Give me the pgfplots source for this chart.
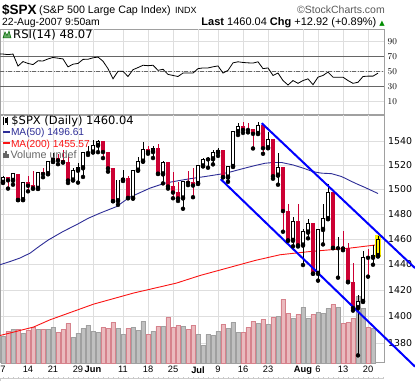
\documentclass[border=0pt]{standalone}
\usepackage{pgfplots}
\pgfplotsset{compat=1.18}
\usepackage{pgfplotstable}
\usepackage{fontspec}
\setmainfont{Liberation Sans}
\newfontfamily\dejavu{DejaVu Sans}
\definecolor{candred}{RGB}{204,0,51}
\definecolor{manavy}{RGB}{45,45,150}
\definecolor{mared}{RGB}{250,20,20}
\definecolor{chan}{RGB}{0,0,255}
\definecolor{volpink}{RGB}{234,186,190}
\definecolor{volpinkd}{RGB}{214,130,140}
\definecolor{volgray}{RGB}{192,192,192}
\definecolor{volgrayd}{RGB}{160,160,160}
\definecolor{gridc}{RGB}{222,222,222}
\definecolor{gridm}{RGB}{185,185,185}
\definecolor{framec}{RGB}{160,160,160}

\pgfplotstableread{
i o h l c
0 1505.6 1511.0 1505.5 1509.5
1 1509.4 1509.4 1500.7 1507.7
2 1507.3 1513.8 1503.8 1512.6
3 1512.3 1512.3 1491.4 1491.5
4 1491.5 1506.2 1491.5 1505.9
5 1505.8 1510.9 1498.3 1503.2
6 1503.1 1514.8 1500.4 1501.2
7 1500.7 1514.2 1500.4 1514.1
8 1514.0 1517.1 1509.9 1512.8
9 1512.7 1522.8 1512.7 1522.8
10 1522.8 1529.9 1522.7 1525.1
11 1525.1 1529.2 1520.6 1524.1
12 1524.1 1532.4 1522.3 1522.3
13 1522.1 1529.3 1505.2 1507.5
14 1507.5 1517.5 1507.5 1515.7
15 1515.6 1521.8 1505.5 1518.1
16 1517.6 1530.2 1510.1 1530.2
17 1530.2 1535.6 1528.3 1530.6
18 1530.6 1540.5 1530.6 1536.3
19 1536.3 1540.9 1530.6 1539.2
20 1539.1 1539.1 1525.6 1531.0
21 1530.6 1530.6 1514.4 1517.4
22 1517.4 1517.4 1490.4 1490.7
23 1490.7 1507.8 1487.4 1507.7
24 1507.6 1515.8 1506.8 1509.1
25 1509.1 1511.0 1493.0 1493.0
26 1492.7 1515.9 1492.7 1515.7
27 1515.6 1526.7 1515.6 1523.0
28 1523.0 1538.7 1523.0 1532.9
29 1532.9 1535.4 1529.3 1531.1
30 1531.0 1535.8 1525.7 1533.7
31 1533.7 1537.3 1512.8 1512.8
32 1512.5 1522.9 1504.8 1522.2
33 1522.2 1522.2 1500.7 1502.6
34 1502.6 1514.3 1492.7 1497.7
35 1497.7 1506.1 1490.5 1492.9
36 1492.9 1506.8 1484.2 1506.3
37 1506.3 1514.8 1503.4 1505.7
38 1505.7 1517.5 1493.6 1503.4
39 1504.7 1519.4 1504.7 1519.4
40 1519.1 1526.0 1519.1 1524.9
41 1524.9 1526.6 1517.7 1525.4
42 1525.0 1532.4 1520.5 1530.4
43 1530.4 1534.3 1527.5 1531.9
44 1531.9 1531.9 1510.0 1510.1
45 1509.9 1519.3 1506.1 1518.8
46 1518.7 1547.9 1518.7 1547.7
47 1547.7 1555.1 1544.9 1552.5
48 1552.5 1555.9 1546.7 1549.5
49 1549.5 1555.3 1547.2 1549.4
50 1549.2 1549.2 1533.7 1546.2
51 1546.1 1555.9 1546.1 1553.1
52 1553.2 1553.2 1529.2 1534.1
53 1534.1 1547.2 1534.1 1541.6
54 1541.6 1541.6 1508.6 1511.0
55 1511.5 1530.0 1503.8 1518.1
56 1518.1 1518.1 1465.8 1482.7
57 1482.4 1488.5 1458.9 1458.9
58 1458.9 1477.9 1454.3 1473.9
59 1473.9 1488.3 1454.2 1455.3
60 1455.2 1468.4 1439.6 1465.8
61 1465.5 1476.4 1460.6 1472.2
62 1472.2 1473.2 1432.8 1433.1
63 1433.0 1467.7 1427.4 1467.7
64 1467.6 1488.3 1455.8 1476.7
65 1476.2 1503.9 1476.2 1497.5
66 1497.2 1497.2 1453.1 1453.1
67 1453.1 1462.0 1429.7 1453.6
68 1453.4 1466.3 1451.2 1452.9
69 1452.9 1456.7 1426.5 1426.5
70 1426.2 1440.8 1404.4 1406.7
71 1406.6 1416.0 1370.6 1411.3
72 1411.3 1450.3 1411.3 1445.9
73 1445.9 1451.8 1430.5 1445.6
74 1445.6 1455.0 1439.8 1447.1
}\candles

\pgfplotstableread{
i r
-0.6 73.5
0 73.5
1 72.8
2 73.5
3 57.5
4 63.5
5 61
6 59.5
7 64.5
8 64.3
9 67
10 69
11 68
12 67
13 56.4
14 60
15 61
16 66.4
17 66.6
18 68.5
19 69.5
20 64
21 54.1
22 40.5
23 50.5
24 50.5
25 43.6
26 52.7
27 55.5
28 58.6
29 58
30 58.6
31 51.8
32 53.2
33 46.4
34 45
35 43.6
36 48.2
37 48.2
38 48.2
39 54.1
40 55
41 55
42 56.5
43 57.7
44 48.2
45 51.8
46 61.8
47 63.2
48 62.3
49 61.8
50 61.5
51 63.2
52 54.1
53 55
54 45
55 48.2
56 38.2
57 32.3
58 38.2
59 34.5
60 38.2
61 40.5
62 32.7
63 42.7
64 45
65 49.5
66 42.7
67 42.7
68 42.7
69 38.2
70 34.5
71 35.9
72 43.6
73 44.1
74 44.1
75 48.07
}\rsi

\pgfplotstableread{
i v d
0 26.7 0
1 31.7 1
2 33.3 0
3 34.0 1
4 30.0 0
5 32.7 1
6 35.3 1
7 33.3 0
8 33.3 1
9 33.3 0
10 35.3 0
11 30.3 1
12 33.3 1
13 39.3 1
14 25.3 0
15 30.0 0
16 34.3 0
17 37.7 0
18 31.7 0
19 30.3 0
20 35.3 1
21 34.3 1
22 40.3 1
23 34.3 0
24 28.7 0
25 34.3 1
26 35.3 0
27 32.7 0
28 41.3 0
29 28.7 1
30 32.0 0
31 36.7 1
32 36.7 0
33 45.3 1
34 36.0 1
35 37.7 1
36 37.0 0
37 33.7 1
38 37.7 1
39 28.7 0
40 17.7 0
41 28.7 0
42 27.7 0
43 31.7 0
44 38.7 1
45 35.0 0
46 40.3 0
47 31.0 0
48 30.3 1
49 35.3 1
50 41.7 1
51 39.3 0
52 43.3 1
53 38.7 0
54 45.3 1
55 47.0 0
56 63.3 1
57 50.0 1
58 44.3 0
59 48.7 1
60 55.3 0
61 44.3 0
62 48.7 1
63 51.0 0
64 50.0 0
65 54.3 0
66 58.3 1
67 55.3 0
68 39.3 1
69 40.3 1
70 45.0 1
71 66.7 0
72 54.3 0
73 35.3 1
74 34.3 0
}\volume

\pgfplotstableread{
i m
-0.6 1439.8
1.4 1442.3
3.4 1445.0
5.4 1448.9
7.4 1454.7
9.1 1459.4
12 1466.0
14.7 1471.4
17 1476.5
19.4 1480.7
22.7 1486.0
25.3 1493.5
27 1496.5
29.4 1501.0
32.4 1505.0
35 1507.0
37.4 1508.6
40.5 1510.5
43.4 1512.4
45.4 1514.1
48 1517.0
50.4 1519.5
52.4 1521.3
54 1522.0
55.7 1522.0
58 1520.0
60.1 1517.3
62 1514.5
63.7 1513.2
65.7 1512.8
67.7 1510.4
70.4 1505.0
72.4 1501.5
74 1498.5
75 1496.6
}\mafifty

\pgfplotstableread{
i m
-0.6 1385.5
6.1 1391.9
9.4 1397.4
18.1 1409.3
26.1 1417.8
34.7 1425.5
39.4 1431.4
46 1438.4
50.4 1443.1
55.4 1447.6
61.4 1450.2
69.4 1452.8
75 1455.6
}\matwohundred

\pgfplotsset{
  chartx/.style={xmin=-0.6, xmax=76.2, scale only axis, width=384pt, anchor=south west},
  pricey/.style={ymin=1365.1, ymax=1561.9, height=248pt, at={(0pt,18pt)}},
  dayticks/.style={xtick={0,5,10,15,18,24,29,34,39,43,48,53,60,63,68,73}},
  body/.style={only marks, mark=none, error bars/y dir=plus, error bars/y explicit, error bars/error mark=none},
}
\begin{document}
\begin{tikzpicture}
\useasboundingbox (0pt,0pt) rectangle (415pt,381pt);

% ---------- RSI panel ----------
\begin{axis}[chartx, at={(0pt,266pt)}, height=86pt, ymin=-7.7, ymax=106.9,
  dayticks, xticklabels={},
  ytick={10,30,50,70,90}, yticklabel pos=right,
  xmajorgrids, ymajorgrids, major grid style={gridc, line width=0.6pt},
  extra x ticks={18,39,60}, extra x tick labels={}, extra x tick style={grid style={gridm, line width=0.8pt}},
  major tick length=0pt,
  axis line style={framec, line width=0.7pt},
  yticklabel style={font=\dejavu\fontsize{9}{10}\selectfont, inner sep=0pt, xshift=3.5pt}]
\addplot[gray!80!black, line width=0.8pt] coordinates {(-0.6,70) (76.2,70)};
\addplot[gray!80!black, line width=0.8pt] coordinates {(-0.6,30) (76.2,30)};
\addplot[gray!80!black, line width=0.6pt, dash pattern=on 4pt off 1.5pt on 1pt off 1.5pt] coordinates {(-0.6,50) (76.2,50)};
\addplot[black, line width=0.8pt] table[x=i, y=r] {\rsi};
\end{axis}

% ---------- price background ----------
\begin{axis}[chartx, ymode=log, pricey,
  dayticks,
  xticklabels={7,14,21,29,\textbf{Jun},11,18,25,\textbf{Jul},9,16,23,\textbf{Aug},6,13,20},
  ytick={1380,1400,1420,1440,1460,1480,1500,1520,1540},
  yticklabels={1380,1400,1420,1440,1460,1480,1500,1520,1540},
  yticklabel pos=right,
  xmajorgrids, ymajorgrids, major grid style={gridc, line width=0.6pt},
  extra x ticks={18,39,60}, extra x tick labels={}, extra x tick style={grid style={gridm, line width=0.8pt}},
  major tick length=0pt,
  axis line style={framec, line width=0.7pt},
  xticklabel style={font=\fontsize{9.3}{10}\selectfont},
  yticklabel style={font=\dejavu\fontsize{9.4}{10}\selectfont, inner sep=0pt, xshift=4pt}]
\addplot[draw=none] coordinates {(0,1450) (1,1450)};
\end{axis}

% ---------- volume ----------
\begin{axis}[chartx, at={(0pt,18pt)}, height=248pt, ymin=0, ymax=248, hide axis]
\addplot[ybar, bar width=4.3pt, bar shift=0pt, fill=volgray, draw=volgrayd, line width=0.5pt,
  restrict expr to domain={\thisrow{d}}{-0.5:0.5}] table[x=i, y=v] {\volume};
\addplot[ybar, bar width=4.3pt, bar shift=0pt, fill=volpink, draw=volpinkd, line width=0.5pt,
  restrict expr to domain={\thisrow{d}}{0.5:1.5}] table[x=i, y=v] {\volume};
\end{axis}

% ---------- price foreground ----------
\begin{axis}[chartx, ymode=log, pricey, hide axis, clip=false]
\addplot[mared, line width=0.9pt] table[x=i, y=m] {\matwohundred};
\addplot[manavy, line width=0.9pt] table[x=i, y=m] {\mafifty};
% red (down) candles
\addplot[body, error bars/error bar style={line width=0.9pt, candred},
  restrict expr to domain={\thisrow{o}-\thisrow{c}}{0:1000}]
  table[x=i, y=l, y error expr=\thisrow{h}-\thisrow{l}] {\candles};
\addplot[body, error bars/error bar style={line width=4.3pt, candred},
  restrict expr to domain={\thisrow{o}-\thisrow{c}}{0:1000}]
  table[x=i, y expr=\thisrow{c}-0.35, y error expr=\thisrow{o}-\thisrow{c}+0.7] {\candles};
% hollow (up) candles
\addplot[body, error bars/error bar style={line width=0.9pt, black},
  restrict expr to domain={\thisrow{c}-\thisrow{o}}{0:1000}]
  table[x=i, y=l, y error expr=\thisrow{h}-\thisrow{l}] {\candles};
\addplot[body, error bars/error bar style={line width=4.5pt, black},
  restrict expr to domain={\thisrow{c}-\thisrow{o}}{0:1000}]
  table[x=i, y expr=\thisrow{o}-0.35, y error expr=\thisrow{c}-\thisrow{o}+0.7] {\candles};
\addplot[body, error bars/error bar style={line width=2.5pt, white},
  restrict expr to domain={\thisrow{c}-\thisrow{o}}{0.95:1000}]
  table[x=i, y expr=\thisrow{o}+0.45, y error expr=\thisrow{c}-\thisrow{o}-0.9] {\candles};
% last (highlighted) candle
\addplot[body, error bars/error bar style={line width=6.7pt, yellow}] coordinates {(75,1446.2) +- (0,17.2)};
\addplot[body, error bars/error bar style={line width=0.9pt, black}] coordinates {(75,1447.0) +- (0,15.6)};
\addplot[body, error bars/error bar style={line width=4.5pt, black}] coordinates {(75,1446.65) +- (0,13.74)};
\addplot[body, error bars/error bar style={line width=2.5pt, yellow}] coordinates {(75,1447.45) +- (0,12.15)};
% trend channel
\addplot[chan, line width=2pt] coordinates {(51.74,1554.9) (82.4,1437.2)};
\addplot[chan, line width=2pt] coordinates {(43.54,1508.3) (82.4,1362.3)};
\end{axis}

% bottom strip (top of next panel)
\draw[gray!40, line width=0.6pt] (0pt,2.8pt) -- (384pt,2.8pt);
\draw[gray!40, line width=0.6pt] (0.3pt,0pt) -- (0.3pt,2.8pt);
\foreach \k in {0,...,76} \draw[gray!45, line width=0.5pt] ({3pt+5pt*\k},2.8pt) -- ++(0pt,1.6pt);

% ---------- header texts ----------
\node[anchor=base west, inner sep=0pt] at (2pt,366.5pt) {\fontsize{13.5}{14}\selectfont\bfseries\$SPX};
\node[anchor=base west, inner sep=0pt] at (39pt,367pt) {\fontsize{10.7}{12}\selectfont(S\&P 500 Large Cap Index)};
\node[anchor=base west, inner sep=0pt] at (175pt,367pt) {\fontsize{9}{10}\selectfont INDX};
\node[anchor=base east, inner sep=0pt, text=black!65] at (385pt,367.5pt) {\fontsize{10.5}{12}\selectfont\textcopyright StockCharts.com};
\node[anchor=base west, inner sep=0pt] at (2pt,355.3pt) {\fontsize{10.4}{12}\selectfont 22-Aug-2007 9:50am};
\node[anchor=base east, inner sep=0pt] at (385pt,355.3pt) {\fontsize{11}{12}\selectfont\textbf{Last} 1460.04 \textbf{Chg} +12.92 (+0.89\%) {\dejavu\color{green!55!black}\fontsize{7}{8}\selectfont ▲}};
% RSI label
\fill[green!45!black!60!white, draw=green!40!black, line width=0.5pt] (3pt,343pt) -- (5pt,349pt) -- (7pt,345.5pt) -- (9pt,350pt) -- (11pt,343pt) -- cycle;
\node[anchor=base west, inner sep=0pt] at (13pt,342.7pt) {\dejavu\fontsize{11.6}{13}\selectfont RSI(14) 48.07};
% main legend
\node[anchor=base west, inner sep=0pt] at (3pt,256.5pt) {\rule{1pt}{7pt}\hspace{0.6pt}\rule[1pt]{2pt}{5pt}\hspace{0.6pt}\rule{1pt}{7pt}\hspace{3pt}\dejavu\fontsize{11.5}{13}\selectfont\$SPX (Daily) 1460.04};
\node[anchor=base west, inner sep=0pt, text=manavy] at (3pt,245pt) {\rule[2.5pt]{7pt}{2pt}\hspace{0.8pt}\fontsize{10.2}{12}\selectfont MA(50) 1496.61};
\node[anchor=base west, inner sep=0pt, text=mared] at (3pt,234pt) {\rule[2.5pt]{7pt}{2pt}\hspace{0.8pt}\fontsize{10.2}{12}\selectfont MA(200) 1455.57};
\node[anchor=base west, inner sep=0pt, text=black!60] at (3pt,223pt) {\rule{1.6pt}{5pt}\hspace{0.5pt}\rule{1.6pt}{7pt}\hspace{0.5pt}\rule{1.6pt}{4pt}\hspace{1.5pt}\fontsize{10.8}{12}\selectfont Volume undef};
\end{tikzpicture}
\end{document}
